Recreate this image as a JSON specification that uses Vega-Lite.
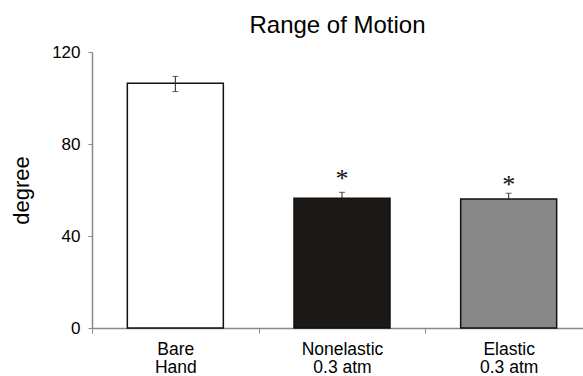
{
  "$schema": "https://vega.github.io/schema/vega-lite/v6.json",
  "width": 491,
  "height": 276,
  "autosize": {"type": "none"},
  "padding": {"left": 92, "top": 52, "right": 0, "bottom": 48},
  "background": "white",
  "config": {
    "view": {"stroke": null},
    "font": "Liberation Sans",
    "axis": {"grid": false, "domainColor": "#888888", "tickColor": "#888888", "labelColor": "black", "titleColor": "black", "labelFont": "Liberation Sans", "titleFont": "Liberation Sans"}
  },
  "title": {"text": "Range of Motion", "anchor": "middle", "frame": "group", "fontSize": 24, "fontWeight": "normal", "offset": 5, "color": "black"},
  "data": {"values": [
    {"group": "Bare Hand", "mean": 106.4, "lo": 102.8, "hi": 109.4, "star": "", "starpos": 0},
    {"group": "Nonelastic 0.3 atm", "mean": 56.4, "lo": 56.4, "hi": 59.0, "star": "*", "starpos": 66.5},
    {"group": "Elastic 0.3 atm", "mean": 56.1, "lo": 56.1, "hi": 58.6, "star": "*", "starpos": 63.9}
  ]},
  "encoding": {
    "x": {"field": "group", "type": "nominal", "sort": null,
      "scale": {"range": [0, 500], "paddingInner": 0, "paddingOuter": 0},
      "axis": {"title": null, "labelAngle": 0, "tickBand": "extent", "tickSize": 5, "labelPadding": 7, "labelFontSize": 17.5, "labelLineHeight": 18.5, "domainWidth": 1.5,
        "labelExpr": "datum.label == 'Bare Hand' ? ['Bare', 'Hand'] : split(replace(datum.label, ' 0.3', '|0.3'), '|')"}}
  },
  "layer": [
    {
      "mark": {"type": "bar", "width": 96, "stroke": "#111111", "strokeWidth": 1.5},
      "encoding": {
        "y": {"field": "mean", "type": "quantitative", "scale": {"domain": [0, 120]},
          "axis": {"title": "degree", "values": [0, 40, 80, 120], "tickSize": 4, "labelPadding": 8, "labelFontSize": 17, "titleFontSize": 22, "titleFontWeight": "normal", "titlePadding": 18, "domainWidth": 1.5}},
        "fill": {"field": "group", "type": "nominal", "sort": null, "legend": null,
          "scale": {"domain": ["Bare Hand", "Nonelastic 0.3 atm", "Elastic 0.3 atm"], "range": ["#ffffff", "#1b1815", "#878887"]}}
      }
    },
    {
      "mark": {"type": "rule", "color": "#222222", "strokeWidth": 1},
      "encoding": {"y": {"field": "lo", "type": "quantitative"}, "y2": {"field": "hi"}}
    },
    {
      "mark": {"type": "tick", "color": "#222222", "thickness": 1, "size": 6},
      "encoding": {"y": {"field": "hi", "type": "quantitative"}}
    },
    {
      "transform": [{"filter": "datum.group == 'Bare Hand'"}],
      "mark": {"type": "tick", "color": "#222222", "thickness": 1, "size": 6},
      "encoding": {"y": {"field": "lo", "type": "quantitative"}}
    },
    {
      "transform": [{"filter": "datum.star != ''"}],
      "mark": {"type": "text", "font": "Liberation Serif", "fontSize": 26, "baseline": "middle", "dy": 4, "color": "#111111", "fill": "#111111"},
      "encoding": {"y": {"field": "starpos", "type": "quantitative"}, "text": {"field": "star"}}
    }
  ]
}
